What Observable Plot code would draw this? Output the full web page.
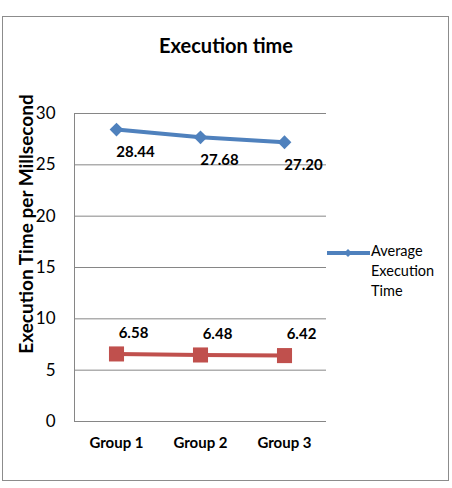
<!DOCTYPE html>
<html>
<head>
<meta charset="utf-8">
<script src="https://cdn.jsdelivr.net/npm/d3@7"></script>
<script src="https://cdn.jsdelivr.net/npm/@observablehq/plot@0.6"></script>
<style>
  html, body { margin: 0; padding: 0; background: #fff; }
  #chart {
    position: relative; width: 452px; height: 488px;
    font-family: Lato, "Open Sans", sans-serif; color: #000;
  }
  #box {
    position: absolute; left: 2px; top: 16px; width: 445px; height: 463px;
    border: 1.5px solid #8c8c8c;
  }
  #title {
    position: absolute; left: 0; width: 452px; top: 33px;
    text-align: center; font-weight: bold; font-size: 20px;
  }
  #ylabel {
    position: absolute; left: 25px; top: 224px;
    transform: translate(-50%, -50%) rotate(-90deg);
    white-space: nowrap; font-weight: bold; font-size: 19px;
  }
  #legend {
    position: absolute; left: 327px; top: 241px;
    display: flex; align-items: flex-start;
  }
  #legend .txt { font-size: 14.5px; line-height: 20px; margin-left: 1px; }
  svg.plot { position: absolute; left: 0; top: 0; }
</style>
</head>
<body>
<div id="chart">
  <div id="box"></div>
  <div id="title">Execution time</div>
  <div id="ylabel">Execution Time per Millsecond</div>
  <div id="legend">
    <svg width="43" height="24"><line x1="0" y1="12" x2="43" y2="12" stroke="#4F81BD" stroke-width="4"/><path d="M21,8 L25,12 L21,16 L17,12 Z" fill="#4F81BD"/></svg>
    <div class="txt">Average<br>Execution<br>Time</div>
  </div>
</div>
<script>
// Groups on the x axis
const groups = ["Group 1", "Group 2", "Group 3"];
// Average execution time (blue series, shown in legend)
const averageTime = [28.44, 27.68, 27.20];
// Second series (red)
const secondTime = [6.58, 6.48, 6.42];
// Y-axis ticks
const yTicks = [0, 5, 10, 15, 20, 25, 30];

const blue = "#4F81BD", red = "#C0504D";
const avgData = groups.map((g, i) => ({group: g, value: averageTime[i]}));
const secData = groups.map((g, i) => ({group: g, value: secondTime[i]}));

const plot = Plot.plot({
  width: 452,
  height: 488,
  marginLeft: 74,
  marginRight: 126,
  marginTop: 113,
  marginBottom: 67,
  style: {fontFamily: "Lato, 'Open Sans', sans-serif", background: "transparent", overflow: "visible"},
  x: {type: "point", domain: groups, padding: 0.5, label: null},
  y: {domain: [0, 30], label: null},
  marks: [
    Plot.gridY(yTicks, {stroke: "#868686", strokeOpacity: 1, strokeWidth: 1}),
    Plot.frame({anchor: "left", stroke: "#868686", strokeWidth: 1}),
    Plot.axisY(yTicks, {tickSize: 0, tickPadding: 19, fontSize: 17, label: null, fill: "#000"}),
    Plot.axisX(groups, {tickSize: 0, tickPadding: 16, fontSize: 15, fontWeight: "bold", label: null, fill: "#000"}),
    Plot.line(avgData, {x: "group", y: "value", stroke: blue, strokeWidth: 4}),
    Plot.dot(avgData, {x: "group", y: "value", symbol: "diamond2", r: 6.2, fill: blue, stroke: null}),
    Plot.line(secData, {x: "group", y: "value", stroke: red, strokeWidth: 4}),
    Plot.dot(secData, {x: "group", y: "value", symbol: "square", r: 8.5, fill: red, stroke: null}),
    Plot.text(avgData, {x: "group", y: "value", text: d => d.value.toFixed(2), dx: 19, dy: 23, fontSize: 15, fontWeight: "bold", fill: "#000"}),
    Plot.text(secData, {x: "group", y: "value", text: d => d.value.toFixed(2), dx: 17, dy: -21, fontSize: 15, fontWeight: "bold", fill: "#000"})
  ]
});
document.getElementById("chart").appendChild(plot);
</script>
</body>
</html>
